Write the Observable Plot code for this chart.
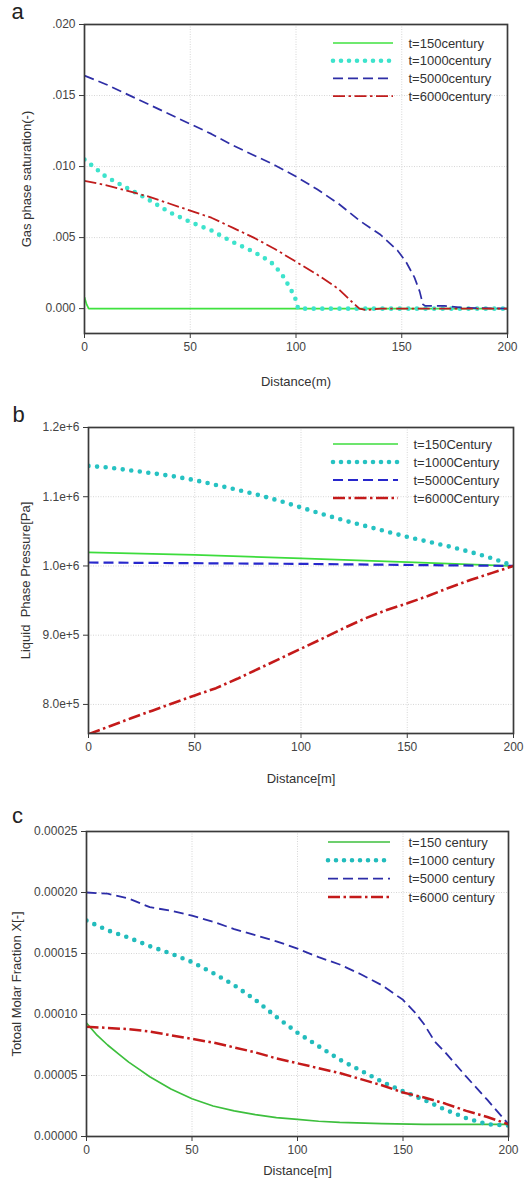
<!DOCTYPE html>
<html>
<head>
<meta charset="utf-8">
<script src="https://cdn.jsdelivr.net/npm/d3@7"></script>
<script src="https://cdn.jsdelivr.net/npm/@observablehq/plot@0.6"></script>
<style>
  html, body { margin: 0; padding: 0; background: #fff; }
  #chart { width: 532px; font-family: "Liberation Sans", Arial, Helvetica, sans-serif; }
  #chart svg { display: block; }
</style>
</head>
<body>
<div id="chart"></div>
<script>
// ---------- shared ----------
const distanceTicks = [0, 50, 100, 150, 200];

// ---------- panel a : gas phase saturation ----------
const gasSatTicks = [0, 0.005, 0.010, 0.015, 0.020];
const gasSatLabels = ["t=150century", "t=1000century", "t=5000century", "t=6000century"];
const gasSat150 = [[0,0.0008],[1,0.0003],[2,0],[200,0]];
const gasSat1000 = [[0,0.0105],[5,0.0099],[10,0.0093],[20,0.0085],[30,0.0077],[40,0.0068],[50,0.0061],[60,0.0055],[70,0.0047],[80,0.0040],[88,0.0033],[93,0.0025],[97,0.0015],[99.5,0.0008],[101,0],[200,0]];
const gasSat5000 = [[0,0.0164],[10,0.0158],[20,0.0151],[30,0.0144],[40,0.0137],[50,0.0130],[60,0.0123],[70,0.0115],[80,0.0108],[90,0.0101],[100,0.0093],[110,0.0084],[120,0.0074],[130,0.0062],[140,0.0052],[148,0.0041],[152,0.0033],[156,0.0022],[158.5,0.0012],[160,0.0003],[161,0.0002],[170,0.0002],[180,0.00005],[200,0]];
const gasSat6000 = [[0,0.0090],[10,0.0087],[20,0.0083],[30,0.0079],[40,0.0074],[50,0.0069],[60,0.0064],[70,0.0057],[80,0.0050],[90,0.0042],[100,0.0033],[110,0.0024],[120,0.0014],[127,0.0004],[130,0],[133,-0.0001],[140,0],[200,0]];

// ---------- panel b : liquid phase pressure ----------
const pressTicks = [800000, 900000, 1000000, 1100000, 1200000];
const pressLabels = ["t=150Century", "t=1000Century", "t=5000Century", "t=6000Century"];
const press150 = [[0,1019500],[50,1016000],[100,1011000],[150,1005500],[200,1000000]];
const press1000 = [[0,1144500],[10,1142000],[20,1138000],[30,1134000],[40,1129500],[50,1124000],[60,1117000],[70,1110000],[80,1102500],[90,1094000],[100,1084500],[110,1075000],[120,1066000],[130,1058000],[140,1050000],[150,1042000],[160,1035000],[170,1028000],[180,1020000],[190,1011000],[200,1000000]];
const press5000 = [[0,1005000],[100,1003000],[200,1000000]];
const press6000 = [[0,757000],[10,768500],[20,780000],[30,791000],[40,802000],[50,813000],[60,823500],[70,837000],[80,851500],[90,866000],[100,880500],[110,895000],[120,910000],[130,924000],[140,936000],[150,946000],[160,957000],[170,969000],[180,980000],[190,990000],[200,1000000]];

// ---------- panel c : total molar fraction ----------
const molarTicks = [0, 0.00005, 0.00010, 0.00015, 0.00020, 0.00025];
const molarLabels = ["t=150 century", "t=1000 century", "t=5000 century", "t=6000 century"];
const molar150 = [[0,0.93e-4],[5,0.83e-4],[10,0.75e-4],[15,0.68e-4],[20,0.61e-4],[25,0.55e-4],[30,0.49e-4],[40,0.39e-4],[50,0.31e-4],[60,0.25e-4],[70,0.21e-4],[80,0.18e-4],[90,0.155e-4],[100,0.14e-4],[110,0.125e-4],[120,0.115e-4],[140,0.105e-4],[160,0.10e-4],[200,0.10e-4]];
const molar1000 = [[0,1.77e-4],[5,1.73e-4],[10,1.69e-4],[20,1.63e-4],[30,1.56e-4],[40,1.50e-4],[50,1.43e-4],[60,1.34e-4],[70,1.24e-4],[80,1.12e-4],[90,0.98e-4],[100,0.85e-4],[110,0.74e-4],[120,0.63e-4],[130,0.54e-4],[140,0.45e-4],[150,0.37e-4],[160,0.30e-4],[170,0.22e-4],[180,0.15e-4],[190,0.10e-4],[200,0.09e-4]];
const molar5000 = [[0,2.00e-4],[10,1.99e-4],[20,1.95e-4],[30,1.88e-4],[40,1.85e-4],[50,1.81e-4],[60,1.76e-4],[70,1.70e-4],[80,1.65e-4],[90,1.60e-4],[100,1.54e-4],[110,1.47e-4],[120,1.41e-4],[130,1.33e-4],[140,1.24e-4],[150,1.12e-4],[156,1.01e-4],[160,0.92e-4],[165,0.78e-4],[170,0.69e-4],[180,0.49e-4],[190,0.30e-4],[200,0.10e-4]];
const molar6000 = [[0,0.90e-4],[10,0.89e-4],[20,0.88e-4],[30,0.86e-4],[40,0.83e-4],[50,0.80e-4],[60,0.77e-4],[70,0.73e-4],[80,0.69e-4],[90,0.64e-4],[100,0.60e-4],[110,0.56e-4],[120,0.52e-4],[130,0.47e-4],[140,0.42e-4],[150,0.36e-4],[160,0.32e-4],[170,0.27e-4],[180,0.21e-4],[190,0.16e-4],[200,0.10e-4]];

// ---------- helpers ----------
const FONT = "Liberation Sans, Arial, Helvetica, sans-serif";

// legend sample lines drawn by a render function (legend layout only)
function legendSwatches(items, pos) {
  return () => {
    const g = d3.create("svg:g");
    items.forEach((it, i) => {
      const y = pos.y0 + i * pos.dy;
      g.append("line")
        .attr("x1", pos.x1).attr("x2", pos.x2).attr("y1", y).attr("y2", y)
        .attr("stroke", it.stroke).attr("stroke-width", it.width)
        .attr("stroke-dasharray", it.dash || null)
        .attr("stroke-linecap", it.cap || "butt");
    });
    return g.node();
  };
}

function panel(o) {
  const lines = o.series.map(s => Plot.line(s.data, {
    x: d => d[0], y: d => d[1],
    stroke: s.stroke, strokeWidth: s.width,
    strokeDasharray: s.dash, strokeLinecap: s.cap || "butt",
    strokeLinejoin: "round", clip: true
  }));
  const legendText = Plot.text(o.legend, {
    frameAnchor: "top-left",
    dx: o.legendPos.tx - o.ml,
    dy: o.legendPos.y0 - o.mt,
    text: d => d.label,
    // each row placed below the previous one
    transform: (data, facets) => ({ data, facets }),
    textAnchor: "start", lineAnchor: "middle", fill: "#333", fontSize: 13
  });
  const legendRows = o.legend.map((d, i) => Plot.text([d.label], {
    frameAnchor: "top-left",
    dx: o.legendPos.tx - o.ml,
    dy: o.legendPos.y0 - o.mt + i * o.legendPos.dy,
    text: t => t,
    textAnchor: "start", lineAnchor: "middle", fill: "#333", fontSize: 13
  }));
  return Plot.plot({
    width: 532,
    height: o.height,
    marginTop: o.mt, marginBottom: o.mb, marginLeft: o.ml, marginRight: o.mr,
    style: { fontFamily: FONT, fontSize: "12px", color: "#333", background: "#fff", overflow: "visible" },
    x: { domain: [0, 200] },
    y: { domain: o.yDomain },
    marks: [
      Plot.gridX({ ticks: [50, 100, 150], stroke: "#d6d6d6", strokeOpacity: 1, strokeWidth: 1, strokeDasharray: "1,1.5" }),
      Plot.gridY({ ticks: o.yTicks, stroke: "#d6d6d6", strokeOpacity: 1, strokeWidth: 1, strokeDasharray: "1,1.5" }),
      ...lines,
      Plot.frame({ stroke: "#3a3a3a", strokeWidth: 1.7 }),
      Plot.axisX({ ticks: distanceTicks, tickSize: 5, tickPadding: 4, label: null, stroke: "#3a3a3a", fill: "#444", fontSize: 12 }),
      Plot.axisY({ ticks: o.yTicks, tickFormat: o.yFormat, tickSize: 5, tickPadding: 4, label: null, stroke: "#3a3a3a", fill: "#444", fontSize: 12 }),
      Plot.text([o.xLabel], { frameAnchor: "bottom", dy: o.xLabelDy, text: d => d, textAnchor: "middle", lineAnchor: "middle", fill: "#333", fontSize: 13 }),
      Plot.text([o.yLabel], { frameAnchor: "left", dx: o.yLabelDx, rotate: -90, text: d => d, textAnchor: "middle", lineAnchor: "middle", fill: "#333", fontSize: 13 }),
      Plot.text([o.letter], { frameAnchor: "top-left", dx: o.letterDx, dy: o.letterDy, text: d => d, textAnchor: "middle", lineAnchor: "middle", fill: "#222", fontSize: 22 }),
      legendSwatches(o.legend, o.legendPos),
      ...legendRows
    ]
  });
}

function styles(green, cyan, blue, red, labels, dataArr, blueW, redW) {
  const st = [
    { stroke: green, width: 1.7 },
    { stroke: cyan, width: 4.6, dash: "0 8.6", cap: "round" },
    { stroke: blue, width: blueW, dash: "10 5" },
    { stroke: red, width: redW, dash: "12 3.5 2.5 3.5" }
  ];
  return {
    series: st.map((s, i) => ({ ...s, data: dataArr[i] })),
    legend: st.map((s, i) => ({ ...s, dash: i === 1 ? "0 8" : s.dash, label: labels[i] }))
  };
}

const sA = styles("#3fe23f", "#3de3cc", "#2e2ea6", "#c01c1c", gasSatLabels, [gasSat150, gasSat1000, gasSat5000, gasSat6000], 1.7, 1.8);
const sB = styles("#3ddc3d", "#26c2c2", "#2727cc", "#c41a1a", pressLabels, [press150, press1000, press5000, press6000], 2.2, 2.6);
const sC = styles("#3dbf3d", "#22bcbc", "#2d2da8", "#c41a1a", molarLabels, [molar150, molar1000, molar5000, molar6000], 1.8, 2.5);

const chart = document.getElementById("chart");

chart.appendChild(panel({
  height: 395, mt: 24, mb: 62, ml: 84, mr: 25,
  yDomain: [-0.00175, 0.020], yTicks: gasSatTicks,
  yFormat: d => d === 0 ? "0.000" : d3.format(".3f")(d).replace(/^0/, ""),
  xLabel: "Distance(m)", xLabelDy: 48,
  yLabel: "Gas phase saturation(-)", yLabelDx: -58,
  letter: "a", letterDx: -67, letterDy: -13,
  series: sA.series, legend: sA.legend,
  legendPos: { x1: 333, x2: 393, tx: 408, y0: 43, dy: 17.7 }
}));

chart.appendChild(panel({
  height: 395, mt: 32, mb: 57, ml: 88, mr: 19,
  yDomain: [758000, 1200000], yTicks: pressTicks,
  yFormat: d => d.toExponential(1),
  xLabel: "Distance[m]", xLabelDy: 45,
  yLabel: "Liquid  Phase Pressure[Pa]", yLabelDx: -63,
  letter: "b", letterDx: -70, letterDy: -13,
  series: sB.series, legend: sB.legend,
  legendPos: { x1: 333, x2: 398, tx: 413, y0: 49, dy: 18 }
}));

chart.appendChild(panel({
  height: 399, mt: 41, mb: 53, ml: 86, mr: 24,
  yDomain: [0, 0.00025], yTicks: molarTicks,
  yFormat: d3.format(".5f"),
  xLabel: "Distance[m]", xLabelDy: 34,
  yLabel: "Totoal Molar Fraction X[-]", yLabelDx: -70,
  letter: "c", letterDx: -69, letterDy: -16,
  series: sC.series, legend: sC.legend,
  legendPos: { x1: 328, x2: 390, tx: 408, y0: 52, dy: 18.3 }
}));
</script>
</body>
</html>
